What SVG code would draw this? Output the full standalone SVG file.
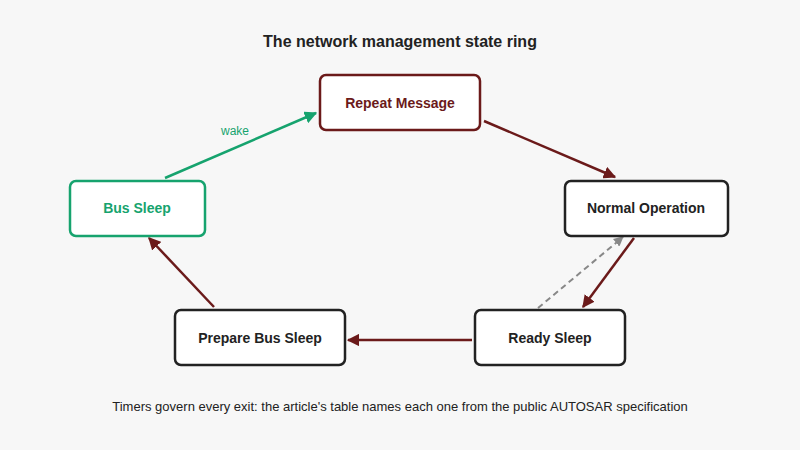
<svg xmlns="http://www.w3.org/2000/svg" width="800" height="450" viewBox="0 0 800 450">
<defs>
<marker id="ar" viewBox="0 0 10 10" refX="9" refY="5" markerWidth="5" markerHeight="5" orient="auto"><path d="M0,0L10,5L0,10z" fill="#6b1a1a"/></marker>
<marker id="ag" viewBox="0 0 10 10" refX="9" refY="5" markerWidth="5" markerHeight="5" orient="auto"><path d="M0,0L10,5L0,10z" fill="#16a36e"/></marker>
<marker id="ad" viewBox="0 0 10 10" refX="9" refY="5" markerWidth="5" markerHeight="5" orient="auto"><path d="M0,0L10,5L0,10z" fill="#888"/></marker>
</defs>
<style>
text{font-family:"Liberation Sans",Arial,sans-serif}
.n{fill:#fff;stroke:#222;stroke-width:2.5}
.l{font-size:14px;font-weight:bold;fill:#222;text-anchor:middle}
.c{stroke:#6b1a1a;stroke-width:2.5;fill:none;marker-end:url(#ar)}
</style>
<rect width="800" height="450" fill="#f7f7f7"/>
<text x="400" y="47" font-size="16" font-weight="bold" text-anchor="middle" fill="#222">The network management state ring</text>
<g id="connectors">
<line x1="165" y1="178" x2="316" y2="113" stroke="#16a36e" stroke-width="2.5" marker-end="url(#ag)"/>
<text x="235" y="135" font-size="12" fill="#16a36e" text-anchor="middle">wake</text>
<line class="c" x1="484" y1="121" x2="615" y2="177"/>
<line class="c" x1="634" y1="238" x2="583" y2="307"/>
<line x1="538" y1="308" x2="623" y2="237" stroke="#888" stroke-width="2" stroke-dasharray="6,4" marker-end="url(#ad)"/>
<line class="c" x1="472" y1="340" x2="348" y2="340"/>
<line class="c" x1="214" y1="307" x2="149" y2="238"/>
</g>
<g id="repeat"><rect class="n" x="320" y="75" width="160" height="55" rx="6" stroke="#6b1a1a" style="stroke:#6b1a1a"/><text class="l" x="400" y="108" style="fill:#6b1a1a">Repeat Message</text></g>
<g id="normal"><rect class="n" x="565" y="181" width="163" height="55" rx="6"/><text class="l" x="646" y="213">Normal Operation</text></g>
<g id="ready"><rect class="n" x="475" y="310" width="150" height="55" rx="6"/><text class="l" x="550" y="343">Ready Sleep</text></g>
<g id="prepare"><rect class="n" x="175" y="310" width="170" height="55" rx="6"/><text class="l" x="260" y="343">Prepare Bus Sleep</text></g>
<g id="bussleep"><rect class="n" x="70" y="181" width="135" height="55" rx="6" style="stroke:#16a36e"/><text class="l" x="137" y="213" style="fill:#16a36e">Bus Sleep</text></g>
<text x="400" y="411" font-size="13" text-anchor="middle" fill="#222">Timers govern every exit: the article's table names each one from the public AUTOSAR specification</text>
</svg>
